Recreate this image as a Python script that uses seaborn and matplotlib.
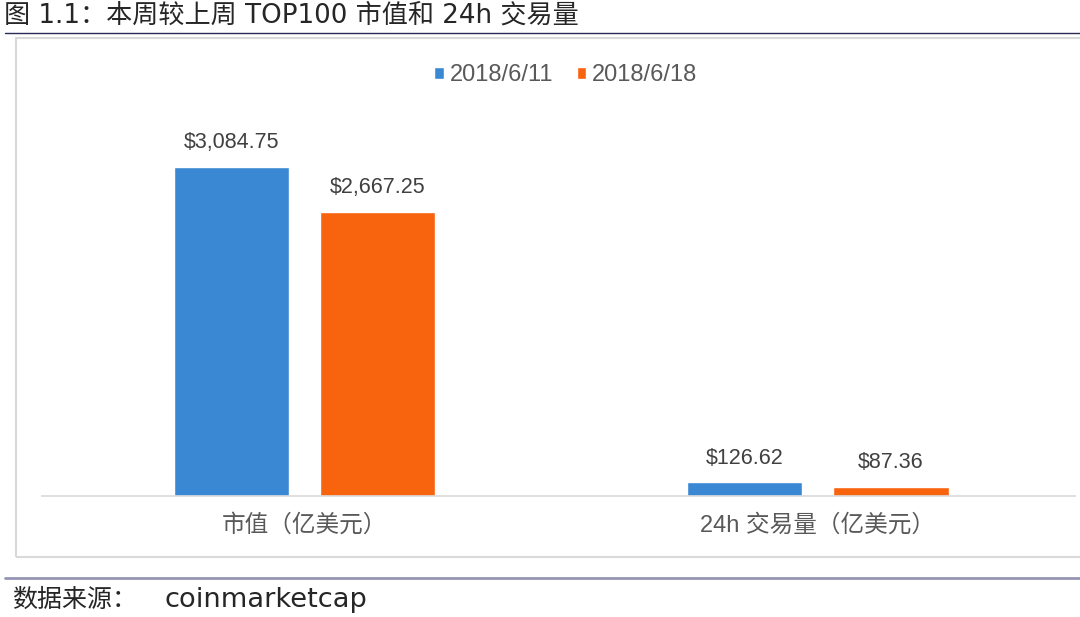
import pandas as pd
import seaborn as sns
import matplotlib.pyplot as plt
from matplotlib.patches import Rectangle
from matplotlib.lines import Line2D

# data
categories = ["市值（亿美元）", "24h 交易量（亿美元）"]
dates = ["2018/6/11", "2018/6/18"]
values_0611 = [3084.75, 126.62]
values_0618 = [2667.25, 87.36]
colors = ["#3a88d3", "#f8630e"]

df = pd.DataFrame({
    "指标": categories * 2,
    "日期": [dates[0]] * 2 + [dates[1]] * 2,
    "数值": values_0611 + values_0618,
})

sns.set_theme(style="white")
plt.rcParams["font.family"] = ["Liberation Sans", "Noto Sans CJK SC", "DejaVu Sans"]
text_gray = "#595959"
head_fam = ["DejaVu Sans", "Noto Sans CJK SC"]

fig = plt.figure(figsize=(10.8, 6.17), dpi=100)
ax = fig.add_axes([42 / 1080, 1 - 496 / 617, 1033 / 1080, 396 / 617])

sns.barplot(data=df, x="指标", y="数值", hue="日期", hue_order=dates,
            palette=colors, saturation=1, width=0.569, gap=0.212,
            errorbar=None, ax=ax)

ax.set_ylim(0, 3713)
ax.set_xlim(-0.511, 1.5005)
ax.set_xlabel("")
ax.set_ylabel("")
ax.set_yticks([])
for s in ["top", "left", "right"]:
    ax.spines[s].set_visible(False)
ax.spines["bottom"].set_color("#d9d9d9")
ax.spines["bottom"].set_linewidth(1.2)
ax.tick_params(axis="x", length=0, pad=13, labelsize=17, labelcolor=text_gray)
ax.patch.set_alpha(0)

for cont, vals in zip(ax.containers, [values_0611, values_0618]):
    ax.bar_label(cont, labels=[f"${v:,.2f}" for v in vals], padding=10,
                 fontsize=15.5, color="#404040")

sns.move_legend(ax, "center", bbox_to_anchor=(566 / 1080, 1 - 75 / 617),
                bbox_transform=fig.transFigure, ncol=2, frameon=False,
                title=None, fontsize=17, handlelength=0.4, handleheight=0.4,
                handletextpad=0.25, columnspacing=1.0)
for t in ax.get_legend().get_texts():
    t.set_color(text_gray)

# chart frame
fig.add_artist(Rectangle((16 / 1080, 1 - 557 / 617), 1.1, 519 / 617,
                         transform=fig.transFigure, fill=False,
                         edgecolor="#d9d9d9", lw=1.5, zorder=0))
# title and rules
fig.add_artist(Line2D([5 / 1080, 1], [1 - 33 / 617] * 2,
                      transform=fig.transFigure, color="#2b2b55", lw=1))
fig.add_artist(Line2D([5 / 1080, 1], [1 - 578 / 617] * 2,
                      transform=fig.transFigure, color="#9595b5", lw=2))
fig.text(4 / 1080, 1 - 16 / 617, "图 1.1：本周较上周 TOP100 市值和 24h 交易量",
         fontsize=18.8, color="#262626", va="center", ha="left", family=head_fam)
fig.text(12 / 1080, 1 - 600 / 617, "数据来源：",
         fontsize=18, color="#262626", va="center", ha="left", family=head_fam)
fig.text(165 / 1080, 1 - 600 / 617, "coinmarketcap",
         fontsize=19.6, color="#262626", va="center", ha="left", family=head_fam)

fig.savefig("out.png", dpi=100, facecolor="white")
